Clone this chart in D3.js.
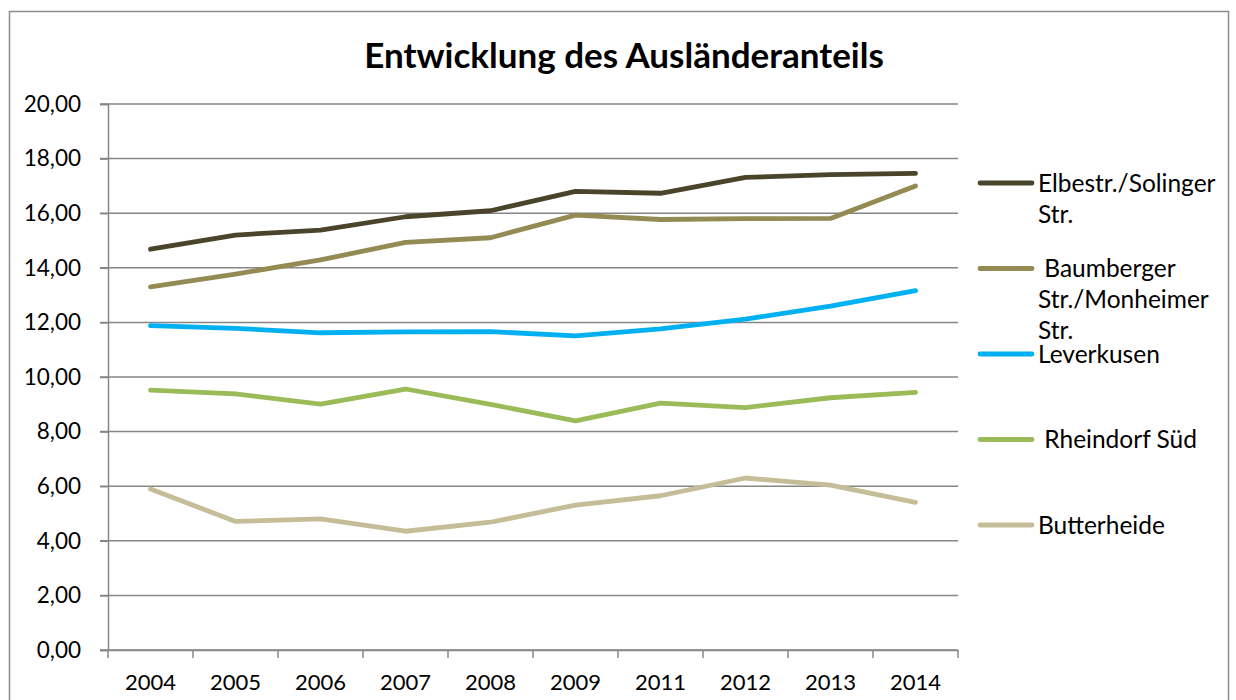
<!DOCTYPE html>
<html>
<head>
<meta charset="utf-8">
<script src="https://cdn.jsdelivr.net/npm/d3@7/dist/d3.min.js"></script>
<style>
  html, body { margin: 0; padding: 0; background: #fff; }
  svg { display: block; font-family: Lato, "Open Sans", sans-serif; }
</style>
</head>
<body>
<svg id="chart" width="1236" height="700"></svg>
<script>
const title = "Entwicklung des Ausländeranteils";
const years = ["2004","2005","2006","2007","2008","2009","2011","2012","2013","2014"];
const yTicks = [0, 2, 4, 6, 8, 10, 12, 14, 16, 18, 20];

const seriesNames = [
  ["Elbestr./Solinger", "Str."],
  [" Baumberger", "Str./Monheimer", "Str."],
  ["Leverkusen"],
  [" Rheindorf Süd"],
  ["Butterheide"]
];
const seriesColors = ["#4A452A", "#948A54", "#00B0F0", "#9BBB59", "#C4BD97"];

const elbestr     = [14.68, 15.20, 15.38, 15.87, 16.09, 16.80, 16.73, 17.31, 17.41, 17.46];
const baumberger  = [13.30, 13.77, 14.29, 14.93, 15.10, 15.93, 15.77, 15.80, 15.81, 17.00];
const leverkusen  = [11.88, 11.78, 11.62, 11.65, 11.66, 11.51, 11.76, 12.12, 12.60, 13.16];
const rheindorf   = [9.52, 9.38, 9.01, 9.56, 9.00, 8.39, 9.04, 8.88, 9.24, 9.44];
const butterheide = [5.90, 4.71, 4.80, 4.35, 4.68, 5.31, 5.65, 6.30, 6.04, 5.41];

const seriesValues = [elbestr, baumberger, leverkusen, rheindorf, butterheide];

const svg = d3.select("#chart");

// outer chart border
svg.append("rect")
  .attr("x", 9.5).attr("y", 11.5)
  .attr("width", 1219).attr("height", 720)
  .attr("fill", "none").attr("stroke", "#8c8c8c").attr("stroke-width", 1.5);

const plot = { left: 108, right: 958, top: 104, bottom: 650 };

const x = d3.scaleBand().domain(years).range([plot.left, plot.right]).padding(0);
const y = d3.scaleLinear().domain([0, 20]).range([plot.bottom, plot.top]);

const gridColor = "#868686";

// gridlines
svg.append("g")
  .selectAll("line")
  .data(yTicks)
  .join("line")
  .attr("x1", plot.left - 8).attr("x2", plot.right)
  .attr("y1", d => y(d)).attr("y2", d => y(d))
  .attr("stroke", gridColor).attr("stroke-width", 1.5);

// y axis
const yAxis = svg.append("g")
  .attr("transform", `translate(${plot.left},0)`)
  .call(d3.axisLeft(y).tickValues(yTicks).tickSize(8).tickPadding(19)
    .tickFormat(d => d3.format(".2f")(d).replace(".", ",")));
yAxis.select(".domain").attr("stroke", gridColor).attr("stroke-width", 1.5);
yAxis.selectAll(".tick line").attr("stroke", gridColor).attr("stroke-width", 1.5);
yAxis.selectAll(".tick text")
  .attr("font-size", 22.5).attr("font-family", "Lato, sans-serif").attr("fill", "#000");

// x axis
const xAxis = svg.append("g")
  .attr("transform", `translate(0,${plot.bottom})`)
  .call(d3.axisBottom(x).tickSize(0).tickPadding(24));
xAxis.select(".domain").attr("stroke", gridColor).attr("stroke-width", 1.5);
xAxis.selectAll(".tick text")
  .attr("font-size", 22).attr("font-family", "Lato, sans-serif").attr("fill", "#000");

// x tick marks at band boundaries
const boundaries = years.map(d => x(d)).concat([x(years[years.length - 1]) + x.bandwidth()]);
svg.append("g")
  .selectAll("line")
  .data(boundaries)
  .join("line")
  .attr("x1", d => d).attr("x2", d => d)
  .attr("y1", plot.bottom).attr("y2", plot.bottom + 8)
  .attr("stroke", gridColor).attr("stroke-width", 1.5);

// lines
const line = d3.line()
  .x((d, i) => x(years[i]) + x.bandwidth() / 2)
  .y(d => y(d));

svg.append("g")
  .selectAll("path")
  .data(seriesValues)
  .join("path")
  .attr("d", d => line(d))
  .attr("fill", "none")
  .attr("stroke", (d, i) => seriesColors[i])
  .attr("stroke-width", 4.8)
  .attr("stroke-linecap", "round")
  .attr("stroke-linejoin", "round");

// title
svg.append("text")
  .attr("x", 624).attr("y", 68)
  .attr("text-anchor", "middle")
  .attr("font-size", 35).attr("font-weight", "bold")
  .attr("font-family", "Lato, sans-serif")
  .attr("fill", "#000")
  .text(title);

// legend
const legendTop = 183, legendStep = 85.5, lineH = 31;
const legend = svg.append("g");
seriesNames.forEach((lines, i) => {
  const cy = legendTop + i * legendStep;
  legend.append("line")
    .attr("x1", 980).attr("x2", 1032)
    .attr("y1", cy).attr("y2", cy)
    .attr("stroke", seriesColors[i]).attr("stroke-width", 4.8)
    .attr("stroke-linecap", "round");
  const t = legend.append("text")
    .attr("x", 1038).attr("y", cy)
    .attr("font-size", 24.5).attr("font-family", "Lato, sans-serif")
    .attr("fill", "#000")
    .style("white-space", "pre");
  lines.forEach((s, j) => {
    t.append("tspan")
      .attr("x", 1038).attr("y", cy + j * lineH)
      .attr("dy", "0.35em")
      .text(s);
  });
});
</script>
</body>
</html>
